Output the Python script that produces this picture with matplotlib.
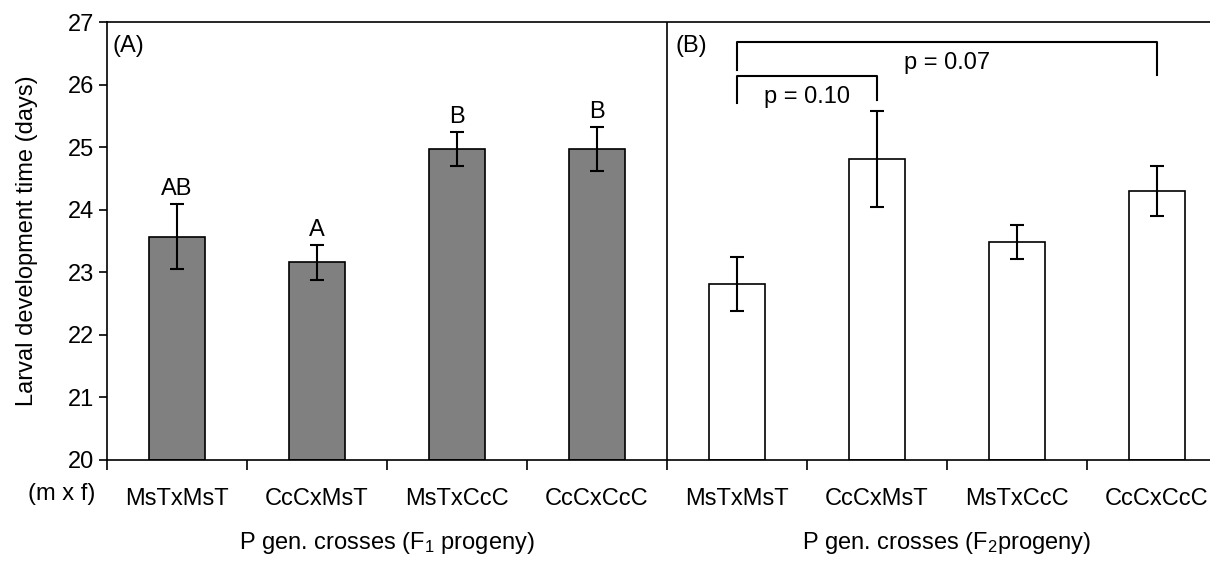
import matplotlib
matplotlib.use("Agg")
import matplotlib.pyplot as plt
import matplotlib.transforms as mtransforms

plt.rcParams["font.family"] = ["Liberation Sans", "DejaVu Sans"]
plt.rcParams["mathtext.fontset"] = "custom"
plt.rcParams["mathtext.rm"] = "Liberation Sans"
plt.rcParams["mathtext.it"] = "Liberation Sans"

# --- data ---
crosses = ["MsTxMsT", "CcCxMsT", "MsTxCcC", "CcCxCcC"]

f1_means = [23.57, 23.16, 24.97, 24.97]
f1_err = [0.52, 0.28, 0.27, 0.35]
f1_letters = ["AB", "A", "B", "B"]

f2_means = [22.81, 24.81, 23.48, 24.30]
f2_err = [0.43, 0.76, 0.27, 0.40]

# bracket comparisons in panel B: (bar i, bar j, bracket height, left leg end, right leg end, text y, text)
brackets = [
    (0, 1, 26.14, 25.71, 25.75, 25.80, "p = 0.10"),
    (0, 3, 26.68, 26.23, 26.16, 26.35, "p = 0.07"),
]

FS = 17

fig = plt.figure(figsize=(12.1, 5.65), dpi=100)
ax = fig.add_axes([0.0884, 0.186, 0.9256, 0.775])

x1 = [i + 0.5 for i in range(4)]
x2 = [i + 4.5 for i in range(4)]

ax.bar(x1, [m - 20 for m in f1_means], bottom=20, width=0.4,
       color="#808080", edgecolor="black", linewidth=1.2, zorder=2)
ax.errorbar(x1, f1_means, yerr=f1_err, fmt="none", ecolor="black",
            elinewidth=1.5, capsize=5, capthick=1.5, zorder=3)

ax.bar(x2, [m - 20 for m in f2_means], bottom=20, width=0.4,
       color="white", edgecolor="black", linewidth=1.2, zorder=2)
ax.errorbar(x2, f2_means, yerr=f2_err, fmt="none", ecolor="black",
            elinewidth=1.5, capsize=5, capthick=1.5, zorder=3)

# significance letters over panel A
for x, m, e, lab in zip(x1, f1_means, f1_err, f1_letters):
    ax.annotate(lab, xy=(x, m + e), xytext=(0, 3), textcoords="offset points",
                ha="center", va="bottom", fontsize=FS)

# p-value brackets over panel B
for i, j, h, yl, yr, ty, txt in brackets:
    xa, xb = x2[i], x2[j]
    ax.plot([xa, xa, xb, xb], [yl, h, h, yr], color="black", lw=1.5, zorder=3)
    ax.text((xa + xb) / 2, ty, txt, ha="center", va="center", fontsize=FS)

# panel divider and labels
ax.plot([4, 4], [20, 27], color="black", lw=1.2)
ax.text(0.04, 26.62, "(A)", ha="left", va="center", fontsize=FS)
ax.text(4.06, 26.62, "(B)", ha="left", va="center", fontsize=FS)

ax.set_xlim(0, 8)
ax.set_ylim(20, 27)
ax.set_yticks(range(20, 28))
ax.tick_params(axis="y", direction="out", length=6, width=1.2, labelsize=FS, pad=3)

ax.set_xticks(range(0, 9))
ax.set_xticklabels([])
ax.tick_params(axis="x", which="major", direction="out", length=7, width=1.2)
ax.set_xticks(x1 + x2, minor=True)
ax.set_xticklabels(crosses + crosses, minor=True)
ax.tick_params(axis="x", which="minor", length=0, labelsize=FS, pad=20)

for s in ["left", "bottom", "top"]:
    ax.spines[s].set_linewidth(1.2)
ax.spines["right"].set_visible(False)

ax.set_ylabel("Larval development time (days)", fontsize=FS, labelpad=22)

trans = mtransforms.blended_transform_factory(ax.transData, fig.transFigure)
fig.text(0.051, 1 - 494 / 565, "(m x f)", ha="center", va="center", fontsize=FS)
ax.text(2, 1 - 543 / 565, "P gen. crosses (F$_1$ progeny)", transform=trans,
        ha="center", va="center", fontsize=FS)
ax.text(6, 1 - 543 / 565, "P gen. crosses (F$_2$progeny)", transform=trans,
        ha="center", va="center", fontsize=FS)

fig.savefig("out.png", dpi=100)
